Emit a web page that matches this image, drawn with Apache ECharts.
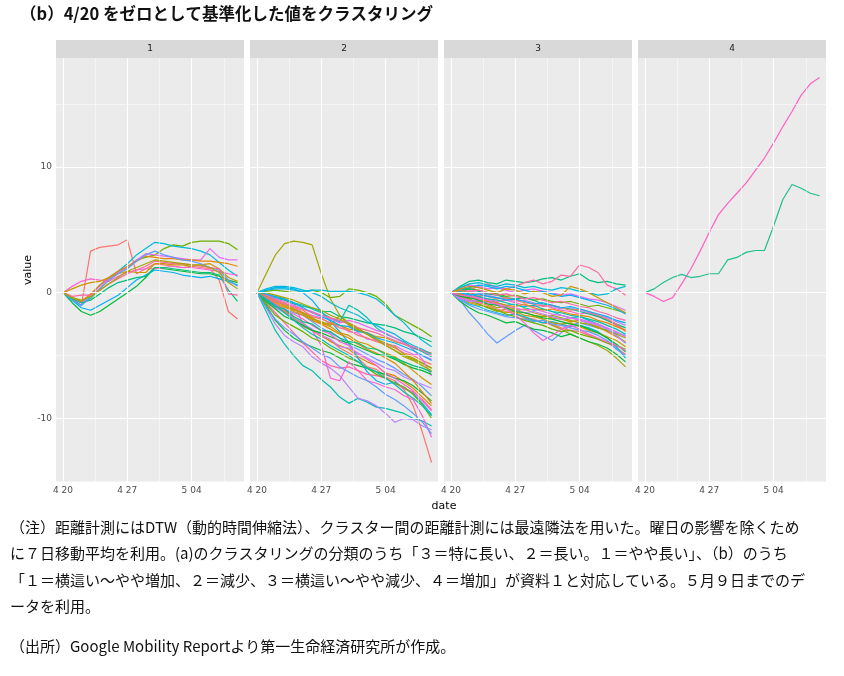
<!DOCTYPE html>
<html><head><meta charset="utf-8">
<script src="https://cdn.jsdelivr.net/npm/echarts@6/dist/echarts.min.js"></script>
<style>html,body{margin:0;padding:0;background:#fff}#c{width:844px;height:676px}</style>
</head><body><div id="c"></div>
<script>
const days = [0,1,2,3,4,5,6,7,8,9,10,11,12,13,14,15,16,17,18,19];
const xTickValues = [0,7,14];
const xTickLabels = ['4 20','4 27','5 04'];
const yTickValues = [-10,0,10];
const panelNames = ['1','2','3','4'];

const panel1 = [
 [0,-0.5,-1.0,3.3,3.6,3.7,3.8,4.2,1.5,1.9,2.3,2.2,2.1,2.0,2.1,2.0,1.9,1.0,-1.5,-2.1],
 [0,-0.4,-0.7,-0.5,0.3,1.0,1.6,2.0,2.6,2.8,3.0,3.5,3.8,3.7,4.0,4.1,4.1,4.1,3.9,3.4],
 [0,-0.6,-1.0,-0.3,0.6,1.2,1.7,2.3,3.0,3.5,4.0,3.9,3.7,3.6,3.5,3.3,3.0,2.4,1.8,1.3],
 [0,-0.5,-0.8,-0.2,0.5,1.1,1.6,2.0,2.6,3.1,3.0,2.9,2.8,2.7,2.6,2.6,3.5,2.8,2.6,2.6],
 [0,-0.4,-0.7,-0.1,0.6,1.2,1.7,2.1,2.5,2.9,2.8,2.7,2.7,2.6,2.6,2.5,2.5,2.4,2.3,2.1],
 [0,-0.8,-1.5,-1.8,-1.5,-1.0,-0.5,0.0,0.5,1.2,2.0,1.9,1.8,1.7,1.6,1.5,1.5,1.3,1.0,0.8],
 [0,-0.6,-1.2,-1.4,-1.0,-0.6,-0.2,0.4,1.0,1.4,1.8,1.7,1.6,1.4,1.3,1.2,1.3,1.1,0.9,0.6],
 [0,0.5,0.9,1.1,1.0,0.9,1.3,1.6,1.8,1.9,1.9,2.0,2.1,2.0,2.0,1.9,1.8,1.7,1.5,1.4],
 [0,0.3,0.6,0.8,0.9,1.2,1.5,1.7,1.6,1.6,2.3,2.3,2.2,2.2,2.1,2.2,2.3,1.9,1.2,0.9],
 [0,-0.5,-0.8,-0.6,-0.1,0.4,0.8,1.0,1.2,1.3,2.0,2.0,1.9,1.8,1.7,1.6,1.6,1.4,0.2,-0.7],
 [0,-0.6,-1.0,-0.4,0.3,1.0,1.5,1.9,2.5,3.0,3.3,3.0,2.8,2.6,2.5,2.3,2.0,1.8,1.0,0.5],
 [0,-0.3,-0.2,-0.2,0.2,0.7,1.1,1.5,1.8,2.1,2.5,2.4,2.3,2.3,2.2,2.1,2.0,1.9,-0.1,-0.2],
 [0,-0.4,-0.6,-0.3,0.2,0.7,1.2,1.7,2.0,2.3,2.6,2.5,2.4,2.3,2.2,2.2,2.0,1.6,0.8,0.3]
];
const panel2 = [
 [0,1.5,3.0,3.9,4.1,4.0,3.8,1.5,-0.5,-1.8,-2.6,-3.0,-3.3,-3.8,-4.2,-4.6,-5.0,-5.3,-5.6,-6.0],
 [0,-1.5,-3.0,-4.1,-5.0,-5.8,-6.2,-6.9,-7.5,-8.3,-8.8,-8.4,-8.7,-9.1,-9.2,-9.4,-9.6,-10.0,-10.2,-10.6],
 [0,-1.2,-2.5,-3.4,-3.9,-4.3,-5.1,-5.6,-6.0,-6.6,-7.5,-8.4,-8.6,-9.0,-9.6,-10.3,-10.0,-10.1,-10.6,-10.9],
 [0,-0.5,-1.1,-1.4,-2.0,-2.7,-3.0,-3.5,-3.8,-4.4,-4.8,-5.2,-5.9,-6.1,-6.7,-7.0,-7.7,-9.0,-11.1,-13.5],
 [0,0.1,0.2,0.1,0.0,0.1,0.2,0.0,-0.4,-0.3,0.3,0.2,0.0,-0.3,-0.9,-1.8,-2.2,-2.6,-3.0,-3.5],
 [0,0.2,0.3,0.3,0.2,0.1,0.2,0.2,0.1,0.1,0.1,0.0,-0.2,-0.5,-1.1,-1.8,-2.4,-3.2,-3.8,-4.3],
 [0,-0.3,-0.7,-0.9,-1.1,-1.6,-1.8,-2.0,-2.5,-2.6,-3.1,-3.2,-3.7,-3.8,-4.1,-4.2,-4.6,-4.9,-5.0,-5.3],
 [0,-0.6,-1.2,-1.5,-2.1,-2.4,-3.0,-3.3,-3.9,-4.2,-4.5,-5.1,-5.5,-5.8,-6.4,-6.6,-7.1,-7.6,-8.3,-9.0],
 [0,-1.0,-2.2,-3.0,-3.6,-4.0,-4.3,-4.6,-4.8,-5.2,-5.6,-5.8,-6.0,-6.3,-6.5,-6.8,-7.0,-7.4,-8.0,-8.6],
 [0,0.2,0.4,0.4,0.3,0.0,-0.6,-1.5,-2.3,-3.1,-4.0,-5.2,-6.3,-7.0,-7.3,-7.1,-7.6,-8.0,-8.8,-9.7],
 [0,-0.2,-0.3,-0.5,-0.8,-2.5,-3.0,-4.2,-6.8,-7.0,-5.5,-6.2,-7.0,-7.2,-7.5,-7.7,-8.2,-8.5,-9.8,-11.5],
 [0,-0.4,-0.9,-1.2,-1.3,-1.6,-2.0,-2.5,-2.4,-2.6,-2.9,-3.0,-3.2,-3.5,-3.6,-3.9,-4.1,-4.4,-4.6,-4.8],
 [0,-0.3,-0.5,-0.6,-0.9,-1.1,-1.2,-1.5,-1.5,-1.9,-2.0,-2.2,-2.4,-2.5,-2.6,-2.8,-3.1,-3.3,-3.6,-3.9],
 [0,-0.5,-1.0,-1.3,-1.6,-1.8,-2.3,-2.8,-3.2,-3.6,-4.2,-4.5,-4.9,-5.3,-5.6,-6.0,-6.5,-6.9,-7.5,-8.2],
 [0,-0.8,-1.6,-2.4,-3.2,-4.0,-4.7,-5.4,-5.8,-6.0,-5.9,-6.2,-6.5,-6.6,-6.8,-7.2,-7.6,-7.9,-8.5,-9.3],
 [0,-0.4,-0.6,-0.9,-1.3,-1.7,-2.1,-2.3,-2.6,-1.8,-2.4,-2.8,-3.3,-3.7,-4.0,-4.3,-4.9,-5.2,-5.6,-6.0],
 [0,-0.2,-0.4,-0.5,-0.8,-1.0,-1.3,-1.6,-2.0,-2.3,-1.0,-1.4,-2.0,-2.8,-3.3,-3.6,-3.9,-4.4,-4.7,-5.1],
 [0,-0.6,-1.2,-1.6,-2.0,-2.5,-2.9,-3.4,-3.7,-4.3,-4.4,-4.8,-5.2,-5.6,-6.0,-6.2,-6.7,-7.0,-7.3,-7.6],
 [0,-0.3,-0.6,-0.8,-1.2,-1.4,-1.9,-2.1,-2.4,-2.8,-3.0,-3.4,-3.6,-3.9,-4.1,-4.4,-4.8,-5.0,-5.4,-5.7],
 [0,-0.9,-1.8,-2.3,-2.7,-3.1,-3.6,-3.9,-4.4,-4.8,-5.2,-5.5,-6.0,-6.5,-6.8,-7.2,-7.5,-8.1,-8.9,-10.0],
 [0,0.3,0.5,0.5,0.4,0.2,0.0,-0.3,-0.8,-1.2,-1.5,-1.8,-2.3,-2.6,-3.0,-3.3,-3.8,-4.2,-4.5,-4.9],
 [0,-0.2,-0.5,-0.7,-1.0,-1.3,-1.5,-1.8,-2.1,-2.4,-2.2,-2.4,-2.7,-3.0,-3.2,-3.6,-4.0,-4.5,-5.3,-6.6],
 [0,-0.4,-0.8,-1.1,-1.5,-1.8,-2.2,-2.5,-2.9,-3.3,-3.6,-4.1,-4.5,-4.8,-5.2,-5.6,-6.3,-7.0,-7.9,-8.8],
 [0,-0.7,-1.3,-1.9,-2.2,-2.6,-3.0,-3.2,-3.5,-3.8,-4.0,-4.3,-4.6,-4.9,-5.0,-5.3,-5.7,-6.0,-6.2,-6.5],
 [0,-0.1,-0.3,-0.5,-0.8,-1.2,-1.6,-1.9,-2.2,-2.6,-2.7,-3.1,-3.2,-3.6,-3.8,-4.0,-4.3,-4.6,-5.0,-5.4],
 [0,-0.5,-0.9,-1.4,-1.7,-2.1,-2.6,-3.0,-3.3,-3.9,-4.2,-4.9,-5.3,-5.8,-6.4,-6.8,-7.3,-7.8,-8.6,-9.4],
 [0,-0.3,-0.7,-1.0,-1.4,-1.6,-2.0,-2.4,-2.7,-3.2,-3.4,-3.9,-4.1,-4.5,-4.8,-5.1,-5.6,-6.2,-6.8,-7.3],
 [0,-0.6,-1.1,-1.3,-1.9,-2.3,-2.5,-3.0,-3.1,-3.6,-3.9,-4.0,-4.4,-4.5,-4.9,-5.2,-5.5,-5.8,-6.0,-6.3],
 [0,-1.2,-2.1,-2.8,-3.3,-3.9,-4.4,-4.9,-5.2,-5.9,-6.3,-6.7,-7.0,-7.5,-8.1,-8.5,-9.0,-9.6,-10.3,-11.2],
 [0,-0.4,-0.7,-0.9,-1.1,-1.3,-1.6,-1.8,-2.0,-2.2,-2.5,-2.8,-3.0,-3.2,-3.5,-3.8,-4.1,-4.3,-4.6,-5.0],
 [0,0.0,-0.2,-0.4,-0.6,-0.9,-1.2,-1.4,-1.8,-2.1,-2.5,-2.9,-3.3,-3.7,-4.2,-4.6,-5.1,-5.4,-5.8,-6.2],
 [0,-0.5,-1.0,-1.6,-2.2,-2.8,-3.3,-3.7,-4.2,-4.6,-5.0,-5.5,-6.0,-6.3,-6.8,-7.3,-7.9,-8.4,-9.0,-9.8]
];
const panel3 = [
 [0,0.5,0.9,1.0,0.8,0.7,1.0,0.9,0.8,0.9,1.1,1.2,1.0,1.3,1.5,1.0,0.8,0.9,0.7,0.6],
 [0,-0.6,-1.6,-2.4,-3.3,-4.0,-3.5,-3.0,-2.6,-3.0,-3.4,-3.8,-3.2,-2.6,-2.4,-2.6,-2.8,-3.0,-3.2,-3.4],
 [0,0.3,0.2,0.5,0.7,0.4,0.3,0.5,0.8,1.0,0.7,0.9,1.4,1.3,2.2,2.0,1.6,0.6,0.3,-0.2],
 [0,-0.4,-0.7,-0.9,-1.2,-1.5,-1.3,-1.6,-2.0,-2.3,-2.2,-2.6,-2.9,-3.3,-3.6,-3.9,-4.2,-4.6,-5.2,-5.9],
 [0,-0.2,-0.4,-0.3,-0.6,-0.8,-1.0,-0.9,-1.2,-1.4,-1.3,-1.5,-1.8,-2.0,-1.9,-2.2,-2.5,-2.9,-3.4,-4.0],
 [0,0.2,0.1,0.0,-0.2,-0.4,-0.5,-0.7,-0.6,-0.8,-1.0,-1.1,-1.3,-1.2,-1.4,-1.6,-1.8,-2.0,-2.3,-2.6],
 [0,-0.3,-0.5,-0.8,-1.0,-1.3,-1.5,-1.7,-2.0,-2.1,-2.4,-2.5,-2.8,-3.0,-3.1,-3.4,-3.7,-4.0,-4.4,-4.9],
 [0,0.1,0.3,0.2,0.0,-0.1,-0.3,-0.2,-0.4,-0.6,-0.5,-0.7,-0.8,-0.7,-0.9,-1.1,-1.0,-1.2,-1.4,-1.6],
 [0,-0.5,-0.9,-1.1,-1.4,-1.6,-1.8,-1.7,-1.9,-2.2,-2.4,-2.3,-2.5,-2.7,-2.6,-2.8,-3.1,-3.6,-4.3,-5.2],
 [0,0.4,0.6,0.5,0.3,0.4,0.2,0.0,0.2,0.3,0.1,0.0,-0.2,-0.1,-0.3,-0.5,-0.6,-0.8,-1.1,-1.4],
 [0,-0.1,-0.3,-0.6,-0.7,-1.0,-1.2,-1.4,-1.3,-1.6,-1.8,-2.0,-2.1,-2.3,-2.2,-2.4,-2.7,-3.1,-3.5,-3.9],
 [0,-0.7,-1.2,-1.6,-1.8,-2.1,-2.4,-2.3,-2.6,-2.9,-3.0,-3.2,-3.5,-3.3,-3.6,-3.9,-4.1,-4.4,-4.9,-5.5],
 [0,0.2,0.4,0.6,0.5,0.3,0.5,0.4,0.2,0.0,0.1,-0.1,-0.3,-0.2,-0.4,-0.6,-0.8,-1.0,-1.3,-1.7],
 [0,-0.2,-0.2,-0.4,-0.5,-0.7,-0.6,-0.8,-1.0,-1.1,-1.0,-1.2,-1.4,-1.5,-1.7,-1.6,-1.9,-2.2,-2.6,-3.0],
 [0,-0.4,-0.8,-1.0,-1.1,-1.4,-1.6,-1.5,-1.8,-1.9,-2.1,-2.4,-2.5,-2.4,-2.7,-3.0,-3.2,-3.5,-3.8,-4.3],
 [0,0.3,0.3,0.1,-0.1,-0.2,-0.4,-0.5,-0.4,-0.6,-0.9,-1.0,-1.2,-1.3,-1.5,-1.7,-1.9,-2.2,-2.5,-2.8],
 [0,-0.6,-1.0,-1.3,-1.5,-1.7,-1.9,-2.0,-2.1,-2.3,-2.2,-2.5,-2.6,-2.8,-3.0,-3.1,-3.4,-3.8,-4.5,-5.0],
 [0,-0.1,0.1,0.2,0.0,-0.2,-0.1,-0.3,-0.5,-0.4,-0.6,-0.8,-0.7,-0.9,-1.1,-1.2,-1.5,-1.7,-2.0,-2.2],
 [0,-0.3,-0.6,-0.7,-0.9,-1.2,-1.1,-1.3,-1.6,-1.8,-1.9,-1.8,-2.0,-2.2,-2.4,-2.5,-2.8,-3.0,-3.3,-3.6],
 [0,0.1,-0.1,-0.3,-0.5,-0.6,-0.8,-1.0,-1.1,-1.0,-1.3,-1.5,-1.6,-1.8,-1.9,-2.1,-2.3,-2.6,-2.9,-3.3],
 [0,-0.5,-0.7,-0.6,-0.8,-1.0,-1.3,-1.4,-1.6,-1.5,-1.7,-1.9,-2.1,-2.0,-2.2,-2.4,-2.6,-2.9,-3.4,-4.0],
 [0,0.2,0.0,-0.2,-0.3,-0.5,-0.4,-0.6,-0.8,-0.9,-1.1,-1.0,-1.2,-1.4,-1.3,-1.5,-1.8,-2.1,-2.5,-3.1],
 [0,-0.2,-0.5,-0.9,-1.2,-1.4,-1.7,-1.9,-2.2,-2.4,-2.6,-2.9,-3.1,-3.0,-3.3,-3.5,-3.7,-4.0,-4.2,-4.5],
 [0,0.4,0.7,0.8,0.6,0.5,0.7,0.6,0.4,0.5,0.3,0.2,0.4,0.3,0.1,0.0,-0.2,-0.1,0.3,0.5],
 [0,-0.4,-0.6,-0.8,-0.7,-0.9,-1.1,-1.2,-1.4,-1.3,-1.5,-1.7,-1.8,-2.0,-2.1,-2.3,-2.5,-2.8,-3.1,-3.5],
 [0,-0.1,-0.4,-0.5,-0.7,-0.8,-1.0,-1.1,-0.9,-1.2,-1.4,-1.3,-1.5,-1.7,-1.8,-1.9,-2.2,-2.4,-2.7,-3.0],
 [0,-0.3,-0.4,-0.6,-0.9,-1.0,-1.2,-1.5,-1.6,-1.8,-2.0,-2.1,-2.3,-2.5,-2.6,-2.9,-3.2,-3.6,-4.1,-4.7],
 [0,0.0,-0.2,-0.1,-0.3,-0.4,-0.6,-0.5,-0.7,-0.9,-0.8,-1.0,-1.2,-1.1,-1.3,-1.5,-1.7,-1.9,-2.2,-2.4],
 [0,-0.2,-0.3,-0.5,-0.6,-0.9,-1.3,-1.8,-2.4,-3.2,-3.8,-3.4,-2.9,-2.6,-2.9,-3.3,-3.6,-3.9,-4.2,-4.6],
 [0,0.3,0.5,0.4,0.2,0.0,0.3,0.2,-0.1,0.1,0.0,-0.3,-0.2,0.5,0.3,0.0,-0.4,-0.8,-1.2,-1.6]
];
const panel4 = [
 [0,-0.3,-0.7,-0.4,0.7,1.9,3.3,4.8,6.2,7.1,7.9,8.7,9.7,10.7,11.9,13.2,14.4,15.7,16.6,17.1],
 [0,0.3,0.8,1.2,1.45,1.2,1.3,1.5,1.5,2.6,2.8,3.2,3.35,3.35,5.3,7.4,8.6,8.3,7.9,7.7]
];
const panels = [panel1, panel2, panel3, panel4];

const palette = ['#F8766D','#E58700','#C99800','#A3A500','#6BB100','#00BA38','#00BF7D','#00C0AF','#00BCD8','#00B0F6','#619CFF','#B983FF','#E76BF3','#FD61D1','#FF67A4'];
const p4colors = ['#FF61C3','#1FBF8F'];

const X0=56, W=188, GAP=194, TOP=58, H=424;
const XMIN=-0.76, XMAX=19.7, YMIN=-15.05, YMAX=18.65;
const grids=[], xAxes=[], yAxes=[], series=[], graphics=[];
for (let p=0;p<4;p++){
  grids.push({left:X0+GAP*p, top:TOP, width:W, height:H, backgroundColor:'#EBEBEB', show:true, borderWidth:0});
  xAxes.push({type:'value', gridIndex:p, min:XMIN, max:XMAX, splitLine:{show:false},
    axisLine:{show:false},
    axisTick:{show:true, customValues:xTickValues, length:3, lineStyle:{color:'#333'}},
    axisLabel:{customValues:xTickValues, formatter:v=>xTickLabels[xTickValues.indexOf(v)]||'', color:'#4D4D4D', fontSize:9, margin:4, fontFamily:'DejaVu Sans'}});
  yAxes.push({type:'value', gridIndex:p, min:YMIN, max:YMAX, splitLine:{show:false},
    axisLine:{show:false},
    axisTick:{show:p===0, customValues:yTickValues, length:3, lineStyle:{color:'#333'}},
    axisLabel:{show:p===0, customValues:yTickValues, color:'#4D4D4D', fontSize:9, margin:4, fontFamily:'DejaVu Sans'}});
  const ml=[];
  [3.5,10.5,17.5].forEach(v=>ml.push({xAxis:v, lineStyle:{color:'#fff',width:0.5,type:'solid'}}));
  [0,7,14].forEach(v=>ml.push({xAxis:v, lineStyle:{color:'#fff',width:1.1,type:'solid'}}));
  [-15,-5,5,15].forEach(v=>ml.push({yAxis:v, lineStyle:{color:'#fff',width:0.5,type:'solid'}}));
  [-10,0,10].forEach(v=>ml.push({yAxis:v, lineStyle:{color:'#fff',width:1.1,type:'solid'}}));
  series.push({type:'line', xAxisIndex:p, yAxisIndex:p, data:[], silent:true,
    markLine:{silent:true, symbol:['none','none'], label:{show:false}, animation:false, data:ml}});
  panels[p].forEach((vals,i)=>{
    const col = p===3 ? p4colors[i] : palette[(i*4+p*3)%palette.length];
    series.push({type:'line', xAxisIndex:p, yAxisIndex:p, data:days.map((d,k)=>[d,vals[k]]),
      symbol:'none', lineStyle:{width:1.2, color:col}, itemStyle:{color:col}, silent:true, animation:false});
  });
  graphics.push({type:'rect', shape:{x:X0+GAP*p, y:40, width:W, height:18}, style:{fill:'#D9D9D9'}});
  graphics.push({type:'text', x:X0+GAP*p+W/2, y:49, style:{text:panelNames[p], fill:'#1A1A1A', font:'9px DejaVu Sans', align:'center', verticalAlign:'middle'}});
}
const notes = [
 '（注）距離計測にはDTW（動的時間伸縮法）、クラスター間の距離計測には最遠隣法を用いた。曜日の影響を除くため',
 'に７日移動平均を利用。(a)のクラスタリングの分類のうち「３＝特に長い、２＝長い。１＝やや長い」、（b）のうち',
 '「１＝横這い～やや増加、２＝減少、３＝横這い～やや減少、４＝増加」が資料１と対応している。５月９日までのデ',
 'ータを利用。',
 '（出所）Google Mobility Reportより第一生命経済研究所が作成。'
];
const noteY=[527,553,580,606,646];
notes.forEach((t,i)=>graphics.push({type:'text', x:10, y:noteY[i], style:{text:t, fill:'#111', font:'15px "Noto Sans CJK JP"', verticalAlign:'middle'}}));
graphics.push({type:'text', x:20, y:14, style:{text:'（b）4/20 をゼロとして基準化した値をクラスタリング', fill:'#111', font:'bold 16.5px "Noto Sans CJK JP"', verticalAlign:'middle'}});
graphics.push({type:'text', x:444, y:506, style:{text:'date', fill:'#000', font:'11px DejaVu Sans', align:'center', verticalAlign:'middle'}});
graphics.push({type:'text', x:28, y:270, rotation:Math.PI/2, style:{text:'value', fill:'#000', font:'11px DejaVu Sans', align:'center', verticalAlign:'middle'}});

const chart = echarts.init(document.getElementById('c'));
chart.setOption({animation:false, grid:grids, xAxis:xAxes, yAxis:yAxes, series:series, graphic:graphics});
</script></body></html>
